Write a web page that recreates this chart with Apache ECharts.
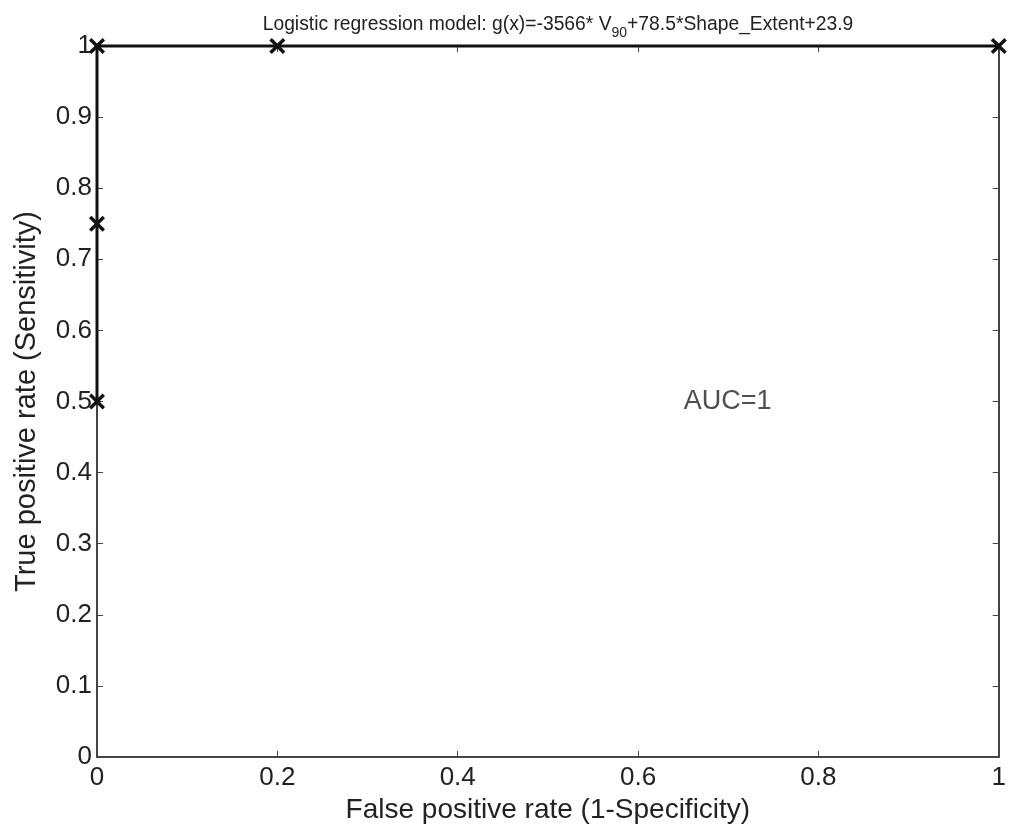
<!DOCTYPE html>
<html><head><meta charset="utf-8">
<script src="https://cdn.jsdelivr.net/npm/echarts@6/dist/echarts.min.js"></script>
<style>html,body{margin:0;padding:0;background:#fff}#c{width:1009px;height:832px}</style>
</head><body><div id="c"></div>
<script>
var fpr = [0, 0, 0, 0.2, 1];
var tpr = [0.5, 0.75, 1, 1, 1];
var xTicks = [0, 0.2, 0.4, 0.6, 0.8, 1];
var yTicks = [0, 0.1, 0.2, 0.3, 0.4, 0.5, 0.6, 0.7, 0.8, 0.9, 1];
var aucLabel = ['AUC=1'];
var aucPos = [0.65, 0.5];

var font = 'Liberation Sans, Arial, sans-serif';
var X = 'path://M0,1.5L1.5,0L5,3.5L8.5,0L10,1.5L6.5,5L10,8.5L8.5,10L5,6.5L1.5,10L0,8.5L3.5,5Z';
var chart = echarts.init(document.getElementById('c'));
var tickStyle = {show:true, inside:true, length:6, lineStyle:{color:'#444', width:1}};
var lineStyle = {color:'#444', width:2};
chart.setOption({
  animation:false,
  title:{
    text:'Logistic regression model: g(x)=-3566* V{s|90}+78.5*Shape_Extent+23.9',
    left:553, textAlign:'center', top:5,
    textStyle:{fontFamily:font, fontSize:19.3, fontWeight:'normal', color:'#222',
      rich:{s:{fontFamily:font, fontSize:14, color:'#222', verticalAlign:'top', padding:[16,0,0,0]}}}
  },
  grid:{left:97, right:7, top:46, bottom:75},
  xAxis:[{
    type:'value', min:0, max:1, interval:0.2, position:'bottom',
    name:'False positive rate (1-Specificity)', nameLocation:'middle', nameGap:33,
    nameTextStyle:{fontFamily:font, fontSize:28, color:'#222'},
    axisLine:{show:true, onZero:false, lineStyle:lineStyle}, axisTick:tickStyle,
    axisLabel:{fontFamily:font, fontSize:26, color:'#222', margin:8,
      formatter:function(v){return String(xTicks[Math.round(v/0.2)]);}},
    splitLine:{show:false}
  },{
    type:'value', min:0, max:1, interval:0.2, position:'top',
    axisLine:{show:true, onZero:false, lineStyle:lineStyle}, axisTick:tickStyle,
    axisLabel:{show:false}, splitLine:{show:false}
  }],
  yAxis:[{
    type:'value', min:0, max:1, interval:0.1, position:'left',
    name:'True positive rate (Sensitivity)', nameLocation:'middle', nameGap:56,
    nameTextStyle:{fontFamily:font, fontSize:29, color:'#222'},
    axisLine:{show:true, onZero:false, lineStyle:lineStyle}, axisTick:tickStyle,
    axisLabel:{fontFamily:font, fontSize:26, color:'#222', margin:5,
      formatter:function(v){return String(yTicks[Math.round(v/0.1)]);}},
    splitLine:{show:false}
  },{
    type:'value', min:0, max:1, interval:0.1, position:'right',
    axisLine:{show:true, onZero:false, lineStyle:lineStyle}, axisTick:tickStyle,
    axisLabel:{show:false}, splitLine:{show:false}
  }],
  series:[{
    type:'scatter', xAxisIndex:1, yAxisIndex:1, data:[[0,0]], symbolSize:0,
    silent:true, itemStyle:{color:'transparent'}
  },{
    type:'line', data:fpr.map(function(x,i){return [x,tpr[i]];}),
    symbol:X, symbolSize:16, showSymbol:true,
    lineStyle:{color:'#111', width:3}, itemStyle:{color:'#111'},
    clip:false
  },{
    type:'scatter', data:[aucPos], symbolSize:1, itemStyle:{color:'transparent'},
    label:{show:true, position:'right', distance:0, formatter:aucLabel[0],
      fontFamily:font, fontSize:27, color:'#222'}
  }]
});
</script></body></html>
